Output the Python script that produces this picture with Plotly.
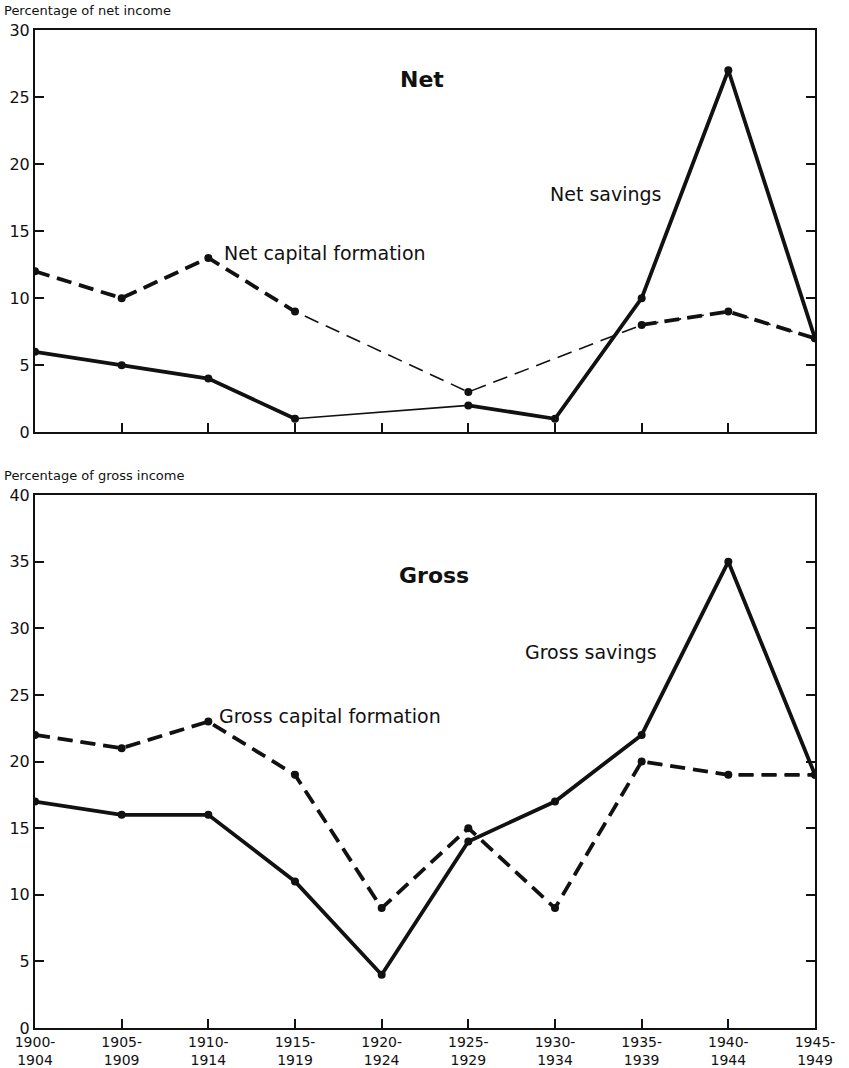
import plotly.graph_objects as go

periods = ["1900-<br>1904", "1905-<br>1909", "1910-<br>1914", "1915-<br>1919", "1920-<br>1924",
           "1925-<br>1929", "1930-<br>1934", "1935-<br>1939", "1940-<br>1944", "1945-<br>1949"]
x_idx = list(range(len(periods)))

net_savings = [6, 5, 4, 1, None, 2, 1, 10, 27, 7]
net_capital_formation = [12, 10, 13, 9, None, 3, None, 8, 9, 7]
gross_savings = [17, 16, 16, 11, 4, 14, 17, 22, 35, 19]
gross_capital_formation = [22, 21, 23, 19, 9, 15, 9, 20, 19, 19]

net_ticks = [0, 5, 10, 15, 20, 25, 30]
gross_ticks = [0, 5, 10, 15, 20, 25, 30, 35, 40]

FONT = "DejaVu Sans"
BLACK = "#111111"

fig = go.Figure()

def add_series(y, xa, ya, dash):
    # thin connecting line across gaps
    fig.add_trace(go.Scatter(x=x_idx, y=y, xaxis=xa, yaxis=ya, mode="lines",
                             connectgaps=True,
                             line=dict(color=BLACK, width=1.6, dash=dash),
                             hoverinfo="skip", showlegend=False))
    # thick line where data continuous
    fig.add_trace(go.Scatter(x=x_idx, y=y, xaxis=xa, yaxis=ya, mode="lines+markers",
                             connectgaps=False,
                             line=dict(color=BLACK, width=3.8, dash=dash),
                             marker=dict(color=BLACK, size=8),
                             showlegend=False))

add_series(net_capital_formation, "x", "y", "15px,8px")
add_series(net_savings, "x", "y", "solid")
add_series(gross_capital_formation, "x2", "y2", "15px,8px")
add_series(gross_savings, "x2", "y2", "solid")

axis_common = dict(showgrid=False, zeroline=False, showline=True, linecolor=BLACK,
                   linewidth=2, ticks="inside", ticklen=9, tickwidth=2, tickcolor=BLACK,
                   automargin=False,
                   tickfont=dict(family=FONT, size=16, color=BLACK))

fig.update_layout(
    width=849, height=1068,
    paper_bgcolor="white", plot_bgcolor="white",
    margin=dict(l=35, r=34, t=30, b=40),
    showlegend=False,
    xaxis=dict(axis_common, domain=[0, 1], anchor="y", range=[0, 9],
               tickvals=x_idx, ticktext=periods, showticklabels=False, mirror=True),
    yaxis=dict(axis_common, domain=[0.597, 1.0], anchor="x", range=[0, 30],
               tickvals=net_ticks, mirror="ticks"),
    xaxis2=dict(axis_common, domain=[0, 1], anchor="y2", range=[0, 9],
                tickvals=x_idx, ticktext=periods, mirror=True,
                tickfont=dict(family=FONT, size=14, color=BLACK)),
    yaxis2=dict(axis_common, domain=[0.0, 0.534], anchor="x2", range=[0, 40],
                tickvals=gross_ticks, mirror="ticks"),
)

ann_font = dict(family=FONT, size=19, color=BLACK)
annotations = [
    dict(text="Percentage of net income", xref="paper", yref="paper", x=-0.042, y=1.0,
         yshift=10, xanchor="left", yanchor="bottom", showarrow=False,
         font=dict(family=FONT, size=13, color=BLACK)),
    dict(text="Percentage of gross income", xref="paper", yref="paper", x=-0.042, y=0.534,
         yshift=10, xanchor="left", yanchor="bottom", showarrow=False,
         font=dict(family=FONT, size=13, color=BLACK)),
    dict(text="<b>Net</b>", xref="x", yref="y", x=4.47, y=26.3, showarrow=False,
         font=dict(family=FONT, size=22, color=BLACK)),
    dict(text="Net savings", xref="x", yref="y", x=5.92, y=17.8, xanchor="left",
         showarrow=False, font=ann_font),
    dict(text="Net capital formation", xref="x", yref="y", x=2.16, y=13.4, xanchor="left",
         showarrow=False, font=ann_font),
    dict(text="<b>Gross</b>", xref="x2", yref="y2", x=4.6, y=34.0, showarrow=False,
         font=dict(family=FONT, size=22, color=BLACK)),
    dict(text="Gross savings", xref="x2", yref="y2", x=5.63, y=28.2, xanchor="left",
         showarrow=False, font=ann_font),
    dict(text="Gross capital formation", xref="x2", yref="y2", x=2.1, y=23.4, xanchor="left",
         showarrow=False, font=ann_font),
]
fig.update_layout(annotations=annotations)

fig.write_html("out.html", config={"displayModeBar": False},
               post_script="document.body.style.margin='0';document.body.style.overflow='hidden';")
